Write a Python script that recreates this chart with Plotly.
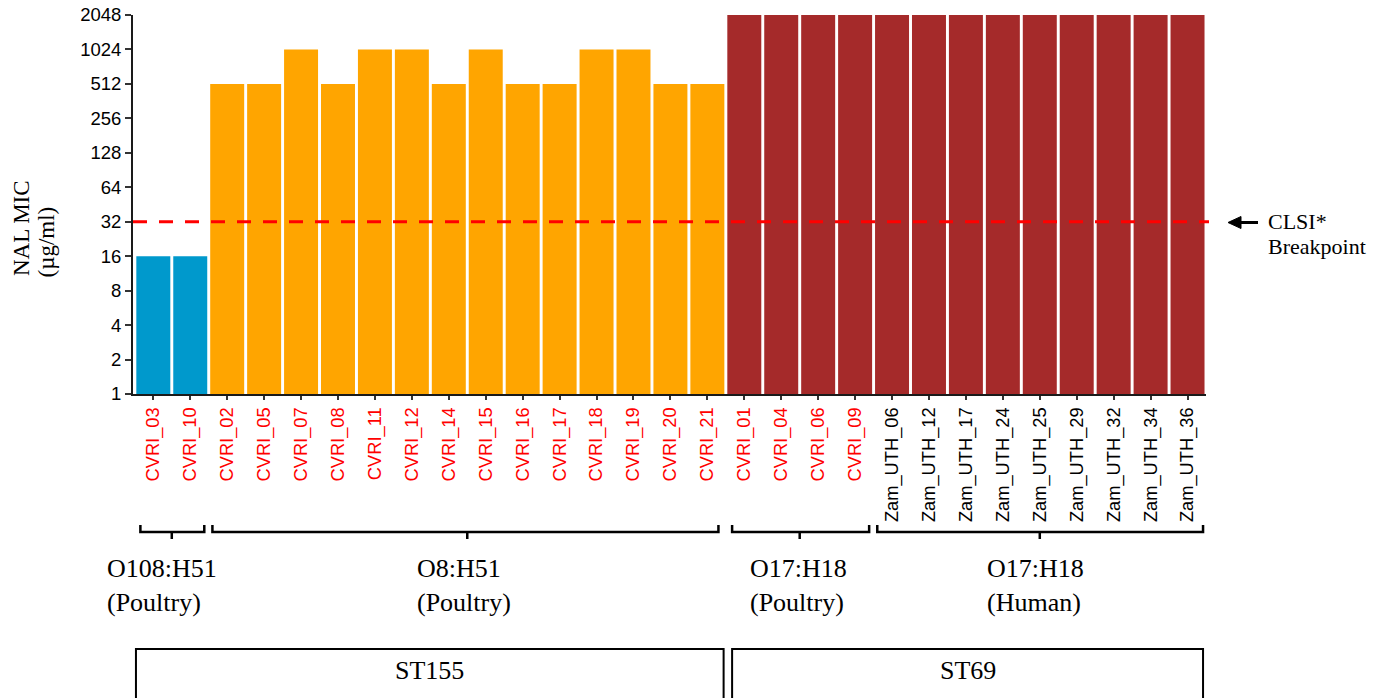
import plotly.graph_objects as go

# ---- data -------------------------------------------------------------
isolates = [
    "CVRI_03", "CVRI_10",
    "CVRI_02", "CVRI_05", "CVRI_07", "CVRI_08", "CVRI_11", "CVRI_12", "CVRI_14",
    "CVRI_15", "CVRI_16", "CVRI_17", "CVRI_18", "CVRI_19", "CVRI_20", "CVRI_21",
    "CVRI_01", "CVRI_04", "CVRI_06", "CVRI_09",
    "Zam_UTH_06", "Zam_UTH_12", "Zam_UTH_17", "Zam_UTH_24", "Zam_UTH_25",
    "Zam_UTH_29", "Zam_UTH_32", "Zam_UTH_34", "Zam_UTH_36",
]
mic_values = [
    16, 16,
    512, 512, 1024, 512, 1024, 1024, 512, 1024, 512, 512, 1024, 1024, 512, 512,
    2048, 2048, 2048, 2048,
    2048, 2048, 2048, 2048, 2048, 2048, 2048, 2048, 2048,
]
# serotype group of each isolate (index into serotype lists below)
serotype_of = [0] * 2 + [1] * 14 + [2] * 4 + [3] * 9
serotype_names = ["O108:H51", "O8:H51", "O17:H18", "O17:H18"]
serotype_hosts = ["(Poultry)", "(Poultry)", "(Poultry)", "(Human)"]
serotype_colors = ["#0099CC", "#FFA500", "#A52A2A", "#A52A2A"]
st_names = ["ST155", "ST69"]
y_ticks = [1, 2, 4, 8, 16, 32, 64, 128, 256, 512, 1024, 2048]
breakpoint_mic = 32

# ---- geometry ---------------------------------------------------------
FIG_W, FIG_H = 1386, 698
L, R, T, B = 133, 1206, 15, 394
X_RANGE = [-0.55, len(isolates) - 0.5]
SERIF = "Liberation Serif, Times New Roman, serif"
SANS = "Liberation Sans, Arial, sans-serif"


def fx(px):
    return (px - L) / (R - L)


def fy(py):
    return (B - py) / (B - T)


def cx(c):
    """category coordinate -> paper x"""
    return (c - X_RANGE[0]) / (X_RANGE[1] - X_RANGE[0])


bar_colors = [serotype_colors[g] for g in serotype_of]
tick_text = [
    f'<span style="color:{"#FF0000" if n.startswith("CVRI") else "#000000"}">{n}</span>'
    for n in isolates
]

fig = go.Figure(
    go.Bar(
        x=list(range(len(isolates))),
        y=mic_values,
        marker=dict(color=bar_colors, line=dict(width=0)),
        hoverinfo="skip",
    )
)

shapes = []
annotations = []

# breakpoint line
shapes.append(dict(
    type="line", xref="paper", yref="y",
    x0=fx(133), x1=fx(1209), y0=breakpoint_mic, y1=breakpoint_mic,
    line=dict(color="#FF0000", width=3, dash="14px,12px"), layer="above",
))
# arrow pointing at the breakpoint line
y_arrow = fy(222.5)
shapes.append(dict(
    type="line", xref="paper", yref="paper",
    x0=fx(1238), x1=fx(1258), y0=y_arrow, y1=y_arrow,
    line=dict(color="#000000", width=3),
))
shapes.append(dict(
    type="path", xref="paper", yref="paper",
    path=(f"M {fx(1228)},{y_arrow} L {fx(1241)},{fy(216.5)} "
          f"L {fx(1241)},{fy(228.5)} Z"),
    fillcolor="#000000", line=dict(color="#000000", width=1),
))
annotations.append(dict(
    xref="paper", yref="paper", x=fx(1266), y=fy(221), text="CLSI*",
    showarrow=False, xanchor="left", yanchor="middle",
    font=dict(family=SERIF, size=22, color="#000000"),
))
annotations.append(dict(
    xref="paper", yref="paper", x=fx(1266), y=fy(246), text="Breakpoint",
    showarrow=False, xanchor="left", yanchor="middle",
    font=dict(family=SERIF, size=22, color="#000000"),
))

# y axis title, two left-aligned rotated lines
annotations.append(dict(
    xref="paper", yref="paper", x=fx(21), y=fy(278), text="NAL MIC",
    showarrow=False, textangle=-90, xanchor="center", yanchor="bottom",
    font=dict(family=SERIF, size=23, color="#000000"),
))
annotations.append(dict(
    xref="paper", yref="paper", x=fx(46), y=fy(280), text="(µg/ml)",
    showarrow=False, textangle=-90, xanchor="center", yanchor="bottom",
    font=dict(family=SERIF, size=23, color="#000000"),
))

# serotype brackets
bracket_ends = [(-0.35, 1.38), (1.6, 15.3), (15.67, 19.38), (19.6, 28.42)]
label_shift = [-10, -3, -1, -4]
y_up, y_h, y_dn = fy(525), fy(532), fy(539)
for g, (a, b) in enumerate(bracket_ends):
    idx = [i for i, s in enumerate(serotype_of) if s == g]
    mid = (idx[0] + idx[-1]) / 2
    shapes.append(dict(
        type="path", xref="paper", yref="paper",
        path=f"M {cx(a)},{y_up} L {cx(a)},{y_h} L {cx(b)},{y_h} L {cx(b)},{y_up}",
        line=dict(color="#000000", width=2.5),
    ))
    shapes.append(dict(
        type="line", xref="paper", yref="paper",
        x0=cx(mid), x1=cx(mid), y0=y_h, y1=y_dn,
        line=dict(color="#000000", width=2.5),
    ))
    annotations.append(dict(
        xref="paper", yref="paper", x=cx(mid), y=fy(552),
        xshift=label_shift[g],
        text=f"{serotype_names[g]}<br>{serotype_hosts[g]}",
        showarrow=False, xanchor="center", yanchor="top", align="left",
        font=dict(family=SERIF, size=26, color="#000000"),
    ))

# sequence-type boxes
st_boxes = [(-0.47, 15.44), (15.67, 28.42)]
for name, (a, b) in zip(st_names, st_boxes):
    shapes.append(dict(
        type="rect", xref="paper", yref="paper",
        x0=cx(a), x1=cx(b), y0=fy(649), y1=fy(710),
        line=dict(color="#000000", width=2), fillcolor="rgba(0,0,0,0)",
    ))
    annotations.append(dict(
        xref="paper", yref="paper", x=cx((a + b) / 2), y=fy(670),
        text=name, showarrow=False, xanchor="center", yanchor="middle",
        font=dict(family=SERIF, size=26, color="#000000"),
    ))

fig.update_layout(
    width=FIG_W, height=FIG_H,
    margin=dict(l=L, r=FIG_W - R, t=T, b=FIG_H - B, pad=0, autoexpand=False),
    paper_bgcolor="#FFFFFF", plot_bgcolor="#FFFFFF",
    bargap=0.08, showlegend=False,
    shapes=shapes, annotations=annotations,
    xaxis=dict(
        range=X_RANGE, tickmode="array", automargin=False,
        tickvals=list(range(len(isolates))), ticktext=tick_text,
        tickangle=-90, tickfont=dict(family=SANS, size=18.3),
        showline=True, linecolor="#1a1a1a", linewidth=2,
        ticks="outside", ticklen=4, tickwidth=1.5, tickcolor="#333333",
        showgrid=False, zeroline=False,
    ),
    yaxis=dict(
        type="log", range=[0, 3.3113], tickmode="array", automargin=False,
        tickvals=y_ticks, ticktext=[str(v) for v in y_ticks],
        tickfont=dict(family=SANS, size=18.5, color="#000000"),
        showline=True, linecolor="#1a1a1a", linewidth=2,
        ticks="outside", ticklen=6, tickwidth=1.5, tickcolor="#333333",
        showgrid=False, zeroline=False,
    ),
)

fig.write_html("out.html")
